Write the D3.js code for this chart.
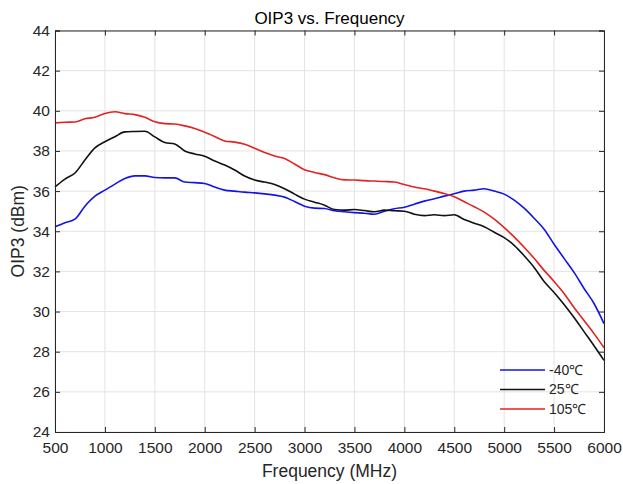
<!DOCTYPE html>
<html><head><meta charset="utf-8">
<script src="https://cdn.jsdelivr.net/npm/d3@7"></script>
<style>body{margin:0;background:#fff}svg{display:block}</style>
</head><body>
<script>
const freqs = [500,600,700,800,900,1000,1100,1200,1300,1400,1500,1600,1700,1800,1900,2000,2100,2200,2300,2400,2500,2600,2700,2800,2900,3000,3100,3200,3300,3400,3500,3600,3700,3800,3900,4000,4100,4200,4300,4400,4500,4600,4700,4800,4900,5000,5100,5200,5300,5400,5500,5600,5700,5800,5900,6000];
const oip3_m40 = [34.22,34.42,34.6,35.25,35.75,36.05,36.35,36.63,36.76,36.76,36.68,36.66,36.66,36.45,36.42,36.38,36.2,36.05,36.0,35.95,35.91,35.86,35.8,35.7,35.48,35.25,35.15,35.13,35.02,34.97,34.93,34.9,34.85,35.0,35.12,35.2,35.35,35.5,35.62,35.75,35.87,36.0,36.05,36.12,36.0,35.85,35.55,35.15,34.65,34.1,33.35,32.65,31.95,31.15,30.4,29.4];
const oip3_25 = [36.21,36.6,36.9,37.55,38.15,38.46,38.71,38.95,38.97,38.98,38.7,38.42,38.35,38.0,37.85,37.74,37.5,37.3,37.05,36.75,36.55,36.45,36.33,36.12,35.85,35.6,35.45,35.3,35.08,35.05,35.08,35.03,34.97,35.05,35.02,35.0,34.85,34.78,34.82,34.78,34.82,34.58,34.4,34.22,33.95,33.68,33.3,32.78,32.2,31.5,30.95,30.35,29.7,29.0,28.3,27.57];
const oip3_105 = [39.4,39.43,39.44,39.6,39.68,39.87,39.95,39.86,39.81,39.68,39.45,39.36,39.34,39.25,39.12,38.93,38.72,38.5,38.44,38.33,38.13,37.92,37.75,37.62,37.35,37.06,36.93,36.82,36.66,36.56,36.55,36.52,36.5,36.48,36.45,36.33,36.2,36.12,36.0,35.88,35.72,35.47,35.22,34.95,34.6,34.18,33.72,33.2,32.65,32.05,31.5,30.9,30.2,29.55,28.9,28.2];
const seriesNames = ["-40\u2103","25\u2103","105\u2103"];
const seriesColors = ["#1414e6","#111111","#e32222"];
const xTicks = [500,1000,1500,2000,2500,3000,3500,4000,4500,5000,5500,6000];
const yTicks = [24,26,28,30,32,34,36,38,40,42,44];

const W = 623, H = 484;
const m = {left:55, right:19, top:30.5, bottom:52};
const FONT = "'Liberation Sans', Arial, sans-serif";
const svg = d3.select("body").append("svg").attr("width",W).attr("height",H)
  .style("font-family",FONT);
const x = d3.scaleLinear().domain([500,6000]).range([m.left, W-m.right]);
const y = d3.scaleLinear().domain([24,44]).range([H-m.bottom, m.top]);
const axisCol = "#262626";

// grid
const g = svg.append("g");
g.selectAll("line.gx").data(xTicks).join("line")
  .attr("x1",d=>x(d)).attr("x2",d=>x(d)).attr("y1",y(24)).attr("y2",y(44))
  .attr("stroke","#e3e3e3").attr("stroke-width",1);
g.selectAll("line.gy").data(yTicks).join("line")
  .attr("y1",d=>y(d)).attr("y2",d=>y(d)).attr("x1",x(500)).attr("x2",x(6000))
  .attr("stroke","#e3e3e3").attr("stroke-width",1);

// lines
const data = [oip3_m40, oip3_25, oip3_105];
const line = d3.line().x((d,i)=>x(freqs[i])).y(d=>y(d)).curve(d3.curveMonotoneX);
svg.selectAll("path.s").data(data).join("path")
  .attr("fill","none").attr("stroke",(d,i)=>seriesColors[i]).attr("stroke-width",1.6)
  .attr("d",line);

// axes
const tl = 5;
const xa = svg.append("g").attr("transform",`translate(0,${y(24)})`)
  .call(d3.axisBottom(x).tickValues(xTicks).tickSize(-tl).tickPadding(10).tickFormat(d3.format("d")));
const xt = svg.append("g").attr("transform",`translate(0,${y(44)})`)
  .call(d3.axisTop(x).tickValues(xTicks).tickSize(-tl).tickFormat(""));
const ya = svg.append("g").attr("transform",`translate(${x(500)},0)`)
  .call(d3.axisLeft(y).tickValues(yTicks).tickSize(-tl).tickPadding(5).tickFormat(d3.format("d")));
const yr = svg.append("g").attr("transform",`translate(${x(6000)},0)`)
  .call(d3.axisRight(y).tickValues(yTicks).tickSize(-tl).tickFormat(""));
[xa,xt,ya,yr].forEach(a=>{
  a.selectAll("path.domain").attr("stroke",axisCol).attr("stroke-width",1);
  a.selectAll(".tick line").attr("stroke",axisCol);
  a.selectAll("text").attr("fill",axisCol).style("font-size","15.5px").style("font-family",FONT);
});
xa.selectAll("text").attr("dy","0.71em");

// labels
svg.append("text").attr("x",(x(500)+x(6000))/2).attr("y",24).attr("text-anchor","middle")
  .attr("fill","#000").style("font-size","17px").text("OIP3 vs. Frequency");
svg.append("text").attr("x",(x(500)+x(6000))/2).attr("y",477).attr("text-anchor","middle")
  .attr("fill",axisCol).style("font-size","17.5px").text("Frequency (MHz)");
svg.append("text").attr("transform",`translate(24,${(y(24)+y(44))/2}) rotate(-90)`).attr("text-anchor","middle")
  .attr("fill",axisCol).style("font-size","17.5px").text("OIP3 (dBm)");

// legend
const lg = svg.append("g");
seriesNames.forEach((n,i)=>{
  const yy = 370 + i*19.5;
  lg.append("line").attr("x1",500).attr("x2",545).attr("y1",yy).attr("y2",yy)
    .attr("stroke",seriesColors[i]).attr("stroke-width",1.6);
  lg.append("text").attr("x",549).attr("y",yy).attr("dy","0.35em").attr("fill",axisCol)
    .style("font-size","14px").text(n);
});
</script>
</body></html>
